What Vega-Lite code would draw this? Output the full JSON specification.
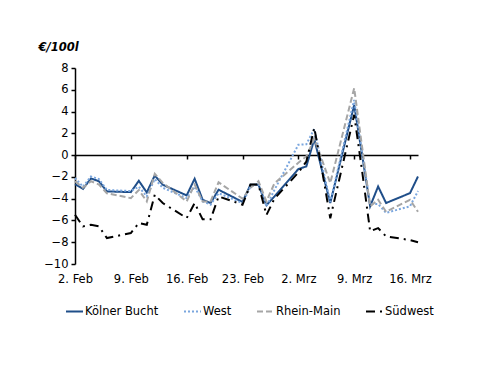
{
  "$schema": "https://vega.github.io/schema/vega-lite/v6.json",
  "width": 343,
  "height": 196,
  "autosize": "none",
  "padding": {"left": 75, "top": 68, "right": 82, "bottom": 122},
  "background": "white",
  "config": {
    "view": {"stroke": null},
    "font": "DejaVu Sans",
    "axis": {"labelFont": "DejaVu Sans", "labelFontSize": 11.5, "labelColor": "black", "grid": false}
  },
  "datasets": {
    "prices": [
      {"date": "2026/02/02", "KB": -2.66, "W": -2.1, "RM": -2.4, "SW": -5.48},
      {"date": "2026/02/03", "KB": -3.1, "W": -2.9, "RM": -3.0, "SW": -6.55},
      {"date": "2026/02/04", "KB": -2.14, "W": -1.96, "RM": -2.4, "SW": -6.4},
      {"date": "2026/02/05", "KB": -2.4, "W": -2.2, "RM": -2.7, "SW": -6.55},
      {"date": "2026/02/06", "KB": -3.33, "W": -3.2, "RM": -3.5, "SW": -7.62},
      {"date": "2026/02/09", "KB": -3.4, "W": -3.3, "RM": -3.95, "SW": -7.16},
      {"date": "2026/02/10", "KB": -2.36, "W": -2.9, "RM": -3.2, "SW": -6.24},
      {"date": "2026/02/11", "KB": -3.43, "W": -3.8, "RM": -4.25, "SW": -6.4},
      {"date": "2026/02/12", "KB": -1.87, "W": -2.2, "RM": -1.72, "SW": -3.64},
      {"date": "2026/02/13", "KB": -2.72, "W": -3.0, "RM": -2.55, "SW": -4.4},
      {"date": "2026/02/16", "KB": -3.7, "W": -3.95, "RM": -4.25, "SW": -5.78},
      {"date": "2026/02/17", "KB": -2.17, "W": -2.9, "RM": -2.7, "SW": -4.4},
      {"date": "2026/02/18", "KB": -4.1, "W": -4.25, "RM": -4.25, "SW": -5.9},
      {"date": "2026/02/19", "KB": -4.4, "W": -4.55, "RM": -4.25, "SW": -5.9},
      {"date": "2026/02/20", "KB": -3.18, "W": -3.5, "RM": -2.5, "SW": -3.8},
      {"date": "2026/02/23", "KB": -4.3, "W": -4.4, "RM": -4.0, "SW": -4.55},
      {"date": "2026/02/24", "KB": -2.72, "W": -2.9, "RM": -3.0, "SW": -2.7},
      {"date": "2026/02/25", "KB": -2.72, "W": -2.6, "RM": -2.4, "SW": -2.7},
      {"date": "2026/02/26", "KB": -4.6, "W": -4.7, "RM": -4.25, "SW": -5.5},
      {"date": "2026/02/27", "KB": -3.8, "W": -3.2, "RM": -2.6, "SW": -4.0},
      {"date": "2026/03/02", "KB": -1.28, "W": 0.95, "RM": -0.7, "SW": -1.6},
      {"date": "2026/03/03", "KB": -1.04, "W": 1.0, "RM": -0.12, "SW": -0.6},
      {"date": "2026/03/04", "KB": 1.47, "W": 2.4, "RM": 1.5, "SW": 2.5},
      {"date": "2026/03/05", "KB": -1.5, "W": -1.0, "RM": -0.5, "SW": -1.5},
      {"date": "2026/03/06", "KB": -4.4, "W": -4.3, "RM": -2.57, "SW": -5.8},
      {"date": "2026/03/09", "KB": 4.6, "W": 5.07, "RM": 6.15, "SW": 3.7},
      {"date": "2026/03/10", "KB": 0.0, "W": 0.2, "RM": 0.7, "SW": -1.5},
      {"date": "2026/03/11", "KB": -4.7, "W": -4.5, "RM": -4.7, "SW": -7.0},
      {"date": "2026/03/12", "KB": -2.88, "W": -4.5, "RM": -4.1, "SW": -6.7},
      {"date": "2026/03/13", "KB": -4.4, "W": -5.3, "RM": -5.2, "SW": -7.47},
      {"date": "2026/03/16", "KB": -3.49, "W": -4.7, "RM": -4.1, "SW": -7.8},
      {"date": "2026/03/17", "KB": -1.96, "W": -3.3, "RM": -5.2, "SW": -8.0}
    ]
  },
  "data": {"name": "prices"},
  "transform": [
    {"fold": ["KB", "W", "RM", "SW"], "as": ["key", "value"]},
    {"lookup": "key", "from": {"data": {"values": [
      {"key": "KB", "region": "Kölner Bucht"},
      {"key": "W", "region": "West"},
      {"key": "RM", "region": "Rhein-Main"},
      {"key": "SW", "region": "Südwest"}
    ]}, "key": "key", "fields": ["region"]}}
  ],
  "mark": {"type": "line", "strokeWidth": 2, "strokeJoin": "miter"},
  "encoding": {
    "x": {
      "field": "date",
      "type": "temporal",
      "scale": {"domain": [{"year": 2026, "month": 2, "date": 2}, {"year": 2026, "month": 3, "date": 17}], "nice": false},
      "axis": {
        "title": null,
        "orient": "bottom",
        "offset": -109,
        "domain": true,
        "domainColor": "black",
        "domainWidth": 1.5,
        "ticks": true,
        "tickColor": "black",
        "tickWidth": 1.5,
        "tickSize": 4,
        "labelPadding": 114,
        "labelFlush": false,
        "labelOverlap": false,
        "values": [
          {"year": 2026, "month": 2, "date": 2},
          {"year": 2026, "month": 2, "date": 9},
          {"year": 2026, "month": 2, "date": 16},
          {"year": 2026, "month": 2, "date": 23},
          {"year": 2026, "month": 3, "date": 2},
          {"year": 2026, "month": 3, "date": 9},
          {"year": 2026, "month": 3, "date": 16}
        ],
        "labelExpr": "timeFormat(datum.value, '%-d') + '. ' + (month(datum.value) == 1 ? 'Feb' : 'Mrz')"
      }
    },
    "y": {
      "field": "value",
      "type": "quantitative",
      "scale": {"domain": [-10, 8], "nice": false},
      "axis": {
        "values": [-10, -8, -6, -4, -2, 0, 2, 4, 6, 8],
        "title": "€/100l",
        "titleAngle": 0,
        "titleAlign": "left",
        "titleBaseline": "middle",
        "titleX": -37,
        "titleY": -21,
        "titleFont": "DejaVu Sans",
        "titleFontSize": 11.5,
        "titleFontWeight": "bold",
        "titleFontStyle": "italic",
        "titleColor": "black",
        "domainColor": "black",
        "domainWidth": 1.5,
        "tickColor": "black",
        "tickWidth": 1.5,
        "tickSize": 4,
        "labelPadding": 3
      }
    },
    "color": {
      "field": "region",
      "type": "nominal",
      "scale": {"domain": ["Kölner Bucht", "West", "Rhein-Main", "Südwest"], "range": ["#1F4E89", "#7AA6DE", "#A6A6A6", "#000000"]},
      "legend": {
        "title": null,
        "orient": "none",
        "direction": "horizontal",
        "legendX": -10,
        "legendY": 234,
        "symbolType": "stroke",
        "symbolSize": 289,
        "symbolStrokeWidth": 2,
        "labelFont": "DejaVu Sans",
        "labelFontSize": 11.5,
        "labelColor": "black",
        "labelOffset": 1,
        "columnPadding": 21
      }
    },
    "strokeDash": {
      "field": "region",
      "type": "nominal",
      "scale": {"domain": ["Kölner Bucht", "West", "Rhein-Main", "Südwest"], "range": [[1, 0], [2, 2], [6, 3], [9, 5, 2, 5]]},
      "legend": {"title": null}
    }
  }
}
